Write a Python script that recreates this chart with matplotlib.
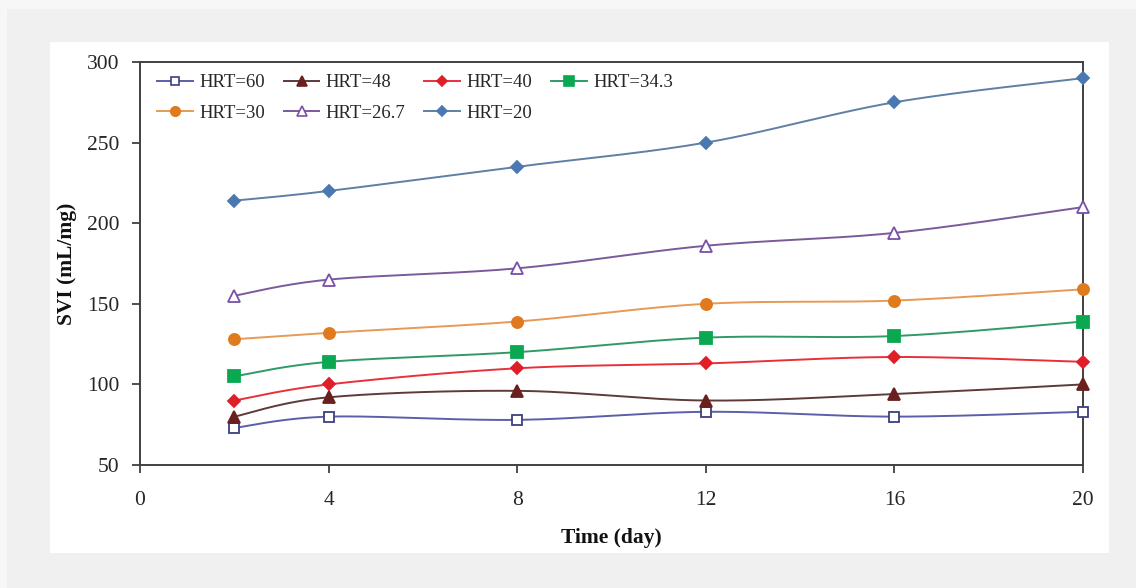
import numpy as np
import matplotlib
matplotlib.use("Agg")
import matplotlib.pyplot as plt
from matplotlib.patches import Rectangle

# ---- data ----
days = [2, 4, 8, 12, 16, 20]
hrt60 = [73, 80, 78, 83, 80, 83]
hrt48 = [80, 92, 96, 90, 94, 100]
hrt40 = [90, 100, 110, 113, 117, 114]
hrt343 = [105, 114, 120, 129, 130, 139]
hrt30 = [128, 132, 139, 150, 152, 159]
hrt267 = [155, 165, 172, 186, 194, 210]
hrt20 = [214, 220, 235, 250, 275, 290]
labels = ["HRT=60", "HRT=48", "HRT=40", "HRT=34.3", "HRT=30", "HRT=26.7", "HRT=20"]
x_ticks = [0, 4, 8, 12, 16, 20]
y_ticks = [50, 100, 150, 200, 250, 300]

series = [hrt60, hrt48, hrt40, hrt343, hrt30, hrt267, hrt20]
styles = [
    dict(line="#5a5fa8", marker="s", mfc="white", mec="#3b3f80", ms=7.5),
    dict(line="#5e3a3a", marker="^", mfc="#6b2020", mec="#6b2020", ms=8),
    dict(line="#e8303a", marker="D", mfc="#e01e28", mec="#e01e28", ms=6),
    dict(line="#2f9a66", marker="s", mfc="#0aa850", mec="#0aa850", ms=8),
    dict(line="#e69a55", marker="o", mfc="#e07a1e", mec="#e07a1e", ms=8),
    dict(line="#7a5a9a", marker="^", mfc="white", mec="#7a4fa8", ms=8),
    dict(line="#5f7fa5", marker="D", mfc="#4a78b0", mec="#4a78b0", ms=6.5),
]


def smooth(xs, ys, n=30):
    """Bezier smoothing through the points (Catmull-Rom style, like Excel)."""
    P = np.column_stack([xs, ys]).astype(float)
    m = len(P)
    out = []
    for i in range(m - 1):
        p0 = P[i - 1] if i > 0 else P[i]
        p1 = P[i]
        p2 = P[i + 1]
        p3 = P[i + 2] if i + 2 < m else P[i + 1]
        c1 = p1 + (p2 - p0) / 6.0
        c2 = p2 - (p3 - p1) / 6.0
        t = np.linspace(0, 1, n)[:, None]
        seg = ((1 - t) ** 3) * p1 + 3 * ((1 - t) ** 2) * t * c1 + 3 * (1 - t) * t ** 2 * c2 + t ** 3 * p2
        out.append(seg if i == 0 else seg[1:])
    out = np.vstack(out)
    return out[:, 0], out[:, 1]


plt.rcParams["font.family"] = ["Liberation Serif", "DejaVu Serif"]

W, H = 1136, 588
fig = plt.figure(figsize=(W / 100, H / 100), dpi=100)
fig.patch.set_facecolor("#f7f7f7")
fig.add_artist(Rectangle((7 / W, 0), 1 - 7 / W, 1 - 9 / H, transform=fig.transFigure,
                         facecolor="#f0f0f0", edgecolor="none", zorder=-3))
fig.add_artist(Rectangle((50 / W, 1 - 553 / H), (1109 - 50) / W, (553 - 42) / H,
                         transform=fig.transFigure, facecolor="white", edgecolor="none", zorder=-2))

ax = fig.add_axes([140 / W, 1 - 465 / H, (1083 - 140) / W, (465 - 62) / H])
ax.set_facecolor("white")

handles = []
for ys, st, lab in zip(series, styles, labels):
    sx, sy = smooth(days, ys)
    ax.plot(sx, sy, color=st["line"], lw=1.4, zorder=2)
    ax.plot(days, ys, linestyle="none", marker=st["marker"], ms=st["ms"],
            mfc=st["mfc"], mec=st["mec"], mew=1.3, zorder=3, clip_on=False)
    h, = ax.plot([], [], color=st["line"], lw=1.4, marker=st["marker"], ms=st["ms"] * 0.85,
                 mfc=st["mfc"], mec=st["mec"], mew=1.2, label=lab)
    handles.append(h)

ax.set_xlim(0, 20)
ax.set_ylim(50, 300)
ax.set_xticks(x_ticks)
ax.set_yticks(y_ticks)
ax.tick_params(direction="out", length=5.5, width=1.3, color="#404040",
               labelsize=15.5, labelcolor="#262626")
ax.tick_params(axis="y", pad=9.5)
ax.tick_params(axis="x", pad=13.5)
for sp in ax.spines.values():
    sp.set_color("#404040")
    sp.set_linewidth(1.4)

ax.set_xlabel("Time (day)", fontsize=15.5, fontweight="bold", labelpad=13, color="#111111")
ax.set_ylabel("SVI (mL/mg)", fontsize=15.5, fontweight="bold", labelpad=7, color="#111111")

order = [0, 4, 1, 5, 2, 6, 3]
leg = ax.legend([handles[i] for i in order], [labels[i] for i in order], ncol=4,
                loc="upper left", bbox_to_anchor=(17 / 943, 1 - 12 / 403), frameon=False,
                fontsize=13.5, handlelength=1.9, handletextpad=0.35, columnspacing=1.0,
                labelspacing=0.72, borderaxespad=0.0, borderpad=0.0)
for t in leg.get_texts():
    t.set_color("#262626")

fig.savefig("out.png", dpi=100, facecolor=fig.get_facecolor())
